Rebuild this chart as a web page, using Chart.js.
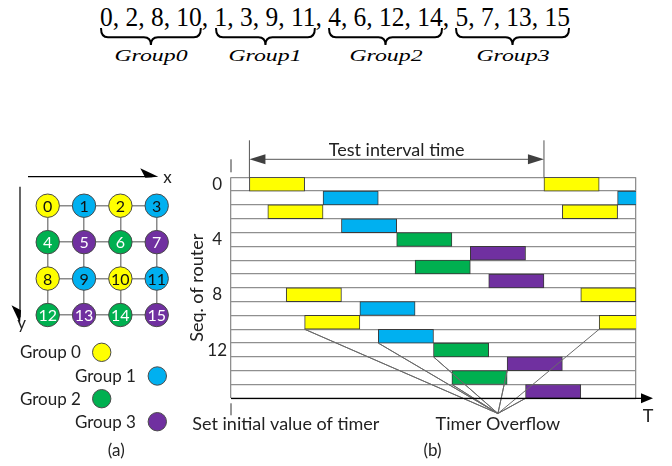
<!DOCTYPE html>
<html>
<head>
<meta charset="utf-8">
<title>Group timer schedule</title>
<script src="https://cdn.jsdelivr.net/npm/chart.js@4/dist/chart.umd.min.js"></script>
<style>
  html, body { margin: 0; padding: 0; background: #fff; }
  body { position: relative; width: 672px; height: 466px; overflow: hidden; }
  #eqRow { position: absolute; left: 100px; top: 4px; font: 27px/1 "Liberation Serif", serif; white-space: pre; transform-origin: 0 0; color: #000; }
  .grp { display: inline-block; }
  .brace { position: absolute; top: 28px; overflow: visible; }
  .glabel { position: absolute; top: 47px; width: 120px; text-align: center; font: italic 17px/1 "Liberation Serif", serif; transform: scaleX(1.4); color: #000; }
  #meshWrap { position: absolute; left: 0; top: 150px; width: 200px; height: 316px; }
  #timingWrap { position: absolute; left: 180px; top: 130px; width: 492px; height: 336px; }
</style>
</head>
<body>
<div id="eqRow"></div>
<div id="meshWrap"><canvas id="mesh" width="200" height="316"></canvas></div>
<div id="timingWrap"><canvas id="timing" width="492" height="336"></canvas></div>
<script>
// router groups, also decide node and bar colours
const groups = [[0, 2, 8, 10], [1, 3, 9, 11], [4, 6, 12, 14], [5, 7, 13, 15]];
const groupNames = ['Group0', 'Group1', 'Group2', 'Group3'];
const legendNames = ['Group 0', 'Group 1', 'Group 2', 'Group 3'];
const groupColors = ['#ffff00', '#00b0f0', '#00b050', '#7030a0'];
const groupTextColors = ['#111', '#111', '#fff', '#fff'];

// 4x4 mesh, router ids row by row
const meshRows = [[0, 1, 2, 3], [4, 5, 6, 7], [8, 9, 10, 11], [12, 13, 14, 15]];

// timer slots per router (time units)
const firstStart = [0, 4, 1, 5, 8, 12, 9, 13, 2, 6, 3, 7, 10, 14, 11, 15];
const secondStart = [16, 20, 17, null, null, null, null, null, 18, null, 19, null, null, null, null, null];
const slotLength = 3;
const intervalStart = 0;
const intervalEnd = 16;
const rowTickLabels = [0, 4, 8, 12];

// timer overflow callout
const overflowPoint = { x: 13.5, y: 17.1 };
const overflowTargets = [
    { x: 3, y: 11 }, { x: 7, y: 12 }, { x: 10, y: 13 }, { x: 11, y: 15 },
    { x: 14, y: 14 }, { x: 15, y: 16 }, { x: 19, y: 11 }
];

const groupOf = id => groups.findIndex(g => g.includes(id));
const FONT = 'Lato, "Open Sans", sans-serif';
const INK = '#222';

// ---------- equation on top ----------
const eqRow = document.getElementById('eqRow');
const groupEls = groups.map((g, i) => {
    const span = document.createElement('span');
    span.className = 'grp';
    span.textContent = g.join(', ');
    eqRow.appendChild(span);
    if (i < groups.length - 1) eqRow.appendChild(document.createTextNode(', '));
    return span;
});
const eqScale = 470 / eqRow.getBoundingClientRect().width;
eqRow.style.transform = `scaleX(${eqScale})`;

const bracePath = (w, h) => {
    const m = w / 2, r = 7, y = h * 0.55;
    return `M1,0 Q1,${y} ${r + 1},${y} L${m - r},${y} Q${m},${y} ${m},${h} ` +
           `Q${m},${y} ${m + r},${y} L${w - r - 1},${y} Q${w - 1},${y} ${w - 1},0`;
};

groupEls.forEach((el, i) => {
    const left = 100 + el.offsetLeft * eqScale;
    const w = el.offsetWidth * eqScale;
    const svg = document.createElementNS('http://www.w3.org/2000/svg', 'svg');
    svg.setAttribute('class', 'brace');
    svg.setAttribute('width', w);
    svg.setAttribute('height', 17);
    svg.style.left = left + 'px';
    svg.innerHTML = `<path d="${bracePath(w, 17)}" fill="none" stroke="#000" stroke-width="2"/>`;
    document.body.appendChild(svg);

    const lbl = document.createElement('div');
    lbl.className = 'glabel';
    lbl.textContent = groupNames[i];
    lbl.style.left = (left + w / 2 - 60) + 'px';
    document.body.appendChild(lbl);
});

// ---------- (a) mesh ----------
const meshPoints = [];
meshRows.forEach((row, r) => row.forEach((id, c) => meshPoints.push({ x: c, y: r, id })));

const legendLayout = [
    { tx: 20, ty: 208, cx: 101.7, cy: 202.3 },
    { tx: 75, ty: 231.7, cx: 157.3, cy: 226 },
    { tx: 20, ty: 255, cx: 101.7, cy: 248.7 },
    { tx: 75, ty: 278.3, cx: 157.3, cy: 271.7 }
];

const meshDecor = {
    id: 'meshDecor',
    afterDatasetsDraw(chart) {
        const { ctx } = chart;
        const meta = chart.getDatasetMeta(0);
        ctx.save();
        ctx.font = `16px ${FONT}`;
        ctx.textAlign = 'center';
        meta.data.forEach((pt, i) => {
            const id = meshPoints[i].id;
            ctx.fillStyle = groupTextColors[groupOf(id)];
            ctx.fillText(String(id), pt.x, pt.y + 6);
        });
        ctx.restore();
    },
    afterDraw(chart) {
        const { ctx, chartArea: ca } = chart;
        ctx.save();
        ctx.strokeStyle = '#000';
        ctx.fillStyle = '#000';
        ctx.lineWidth = 1.2;

        // x direction arrow
        const ay = ca.top - 29, tipX = ca.right + 1.6;
        ctx.beginPath();
        ctx.moveTo(ca.left - 19.7, ay);
        ctx.lineTo(tipX - 6, ay);
        ctx.stroke();
        ctx.beginPath();
        ctx.moveTo(tipX, ay);
        ctx.lineTo(tipX - 18, ay - 8.5);
        ctx.lineTo(tipX - 13, ay + 1);
        ctx.closePath();
        ctx.fill();

        // y direction arrow
        const ax = ca.left - 27.7, tipY = ca.bottom + 8.3;
        ctx.beginPath();
        ctx.moveTo(ax, ca.top - 19);
        ctx.lineTo(ax, tipY - 6);
        ctx.stroke();
        ctx.beginPath();
        ctx.moveTo(ax, tipY);
        ctx.lineTo(ax - 8.5, tipY - 18);
        ctx.lineTo(ax + 1, tipY - 13);
        ctx.closePath();
        ctx.fill();

        ctx.font = `17px ${FONT}`;
        ctx.fillStyle = INK;
        ctx.textAlign = 'center';
        ctx.fillText('x', ca.right + 10.8, ca.top - 22.4);
        ctx.fillText('y', ca.left - 26, ca.bottom + 14);

        // legend
        legendLayout.forEach((p, i) => {
            ctx.textAlign = 'left';
            ctx.fillStyle = INK;
            ctx.fillText(legendNames[i], p.tx, p.ty);
            ctx.beginPath();
            ctx.arc(p.cx, p.cy, 9.2, 0, Math.PI * 2);
            ctx.fillStyle = groupColors[i];
            ctx.fill();
            ctx.strokeStyle = '#4a4a4a';
            ctx.lineWidth = 1;
            ctx.stroke();
        });

        ctx.textAlign = 'center';
        ctx.fillStyle = INK;
        ctx.fillText('(a)', 116.3, 306);
        ctx.restore();
    }
};

new Chart(document.getElementById('mesh'), {
    type: 'scatter',
    data: {
        datasets: [{
            data: meshPoints,
            pointRadius: 11.7,
            pointBorderWidth: 1,
            pointBorderColor: '#4a4a4a',
            pointBackgroundColor: meshPoints.map(p => groupColors[groupOf(p.id)]),
            clip: false
        }]
    },
    options: {
        responsive: false,
        animation: false,
        events: [],
        layout: { padding: { left: 47.7, top: 55.7, right: 43.3, bottom: 151 }, autoPadding: false },
        plugins: { legend: { display: false }, tooltip: { enabled: false } },
        scales: {
            x: {
                type: 'linear', min: 0, max: 3,
                ticks: { display: false, stepSize: 1 },
                grid: { color: '#8a8a8a', lineWidth: 1.5, drawTicks: false },
                border: { display: false }
            },
            y: {
                type: 'linear', min: 0, max: 3, reverse: true,
                ticks: { display: false, stepSize: 1 },
                grid: { color: '#8a8a8a', lineWidth: 1.5, drawTicks: false },
                border: { display: false }
            }
        }
    },
    plugins: [meshDecor]
});

// ---------- (b) timer schedule ----------
const bars = [];
const barColors = [];
firstStart.forEach((s, r) => {
    bars.push({ y: r + 0.5, x: [s, s + slotLength] });
    barColors.push(groupColors[groupOf(r)]);
    if (secondStart[r] !== null) {
        bars.push({ y: r + 0.5, x: [secondStart[r], secondStart[r] + slotLength] });
        barColors.push(groupColors[groupOf(r)]);
    }
});

const fanLine = [];
overflowTargets.forEach(t => fanLine.push(overflowPoint, t));

const timingDecor = {
    id: 'timingDecor',
    afterDraw(chart) {
        const { ctx, chartArea: ca, scales: { x } } = chart;
        ctx.save();

        // test interval markers
        const xa = x.getPixelForValue(intervalStart);
        const xb = x.getPixelForValue(intervalEnd);
        const ay = ca.top - 18;
        ctx.strokeStyle = '#555';
        ctx.fillStyle = '#404040';
        ctx.lineWidth = 1;
        ctx.beginPath();
        ctx.moveTo(xa, ca.top - 37);
        ctx.lineTo(xa, ca.top);
        ctx.moveTo(xb, ca.top - 37);
        ctx.lineTo(xb, ca.top);
        ctx.moveTo(xa + 14, ay);
        ctx.lineTo(xb - 14, ay);
        ctx.stroke();
        [[xa, 1], [xb, -1]].forEach(([tx, d]) => {
            ctx.beginPath();
            ctx.moveTo(tx, ay);
            ctx.lineTo(tx + d * 16, ay - 5);
            ctx.lineTo(tx + d * 16, ay + 5);
            ctx.closePath();
            ctx.fill();
        });

        // short marks on the time origin
        ctx.strokeStyle = '#333';
        ctx.beginPath();
        ctx.moveTo(ca.left, ca.top - 18);
        ctx.lineTo(ca.left, ca.top - 5);
        ctx.moveTo(ca.left, ca.bottom + 5);
        ctx.lineTo(ca.left, ca.bottom + 17);
        ctx.stroke();

        // time axis
        ctx.strokeStyle = '#000';
        ctx.fillStyle = '#000';
        ctx.lineWidth = 1.3;
        const tip = ca.right + 17;
        ctx.beginPath();
        ctx.moveTo(ca.left, ca.bottom);
        ctx.lineTo(tip - 4, ca.bottom);
        ctx.stroke();
        ctx.beginPath();
        ctx.moveTo(tip, ca.bottom);
        ctx.lineTo(tip - 12, ca.bottom - 5);
        ctx.lineTo(tip - 12, ca.bottom + 5);
        ctx.closePath();
        ctx.fill();

        ctx.font = `18px ${FONT}`;
        ctx.fillStyle = INK;
        ctx.textAlign = 'center';
        ctx.fillText('Test interval time', (xa + xb) / 2, ca.top - 21);
        ctx.fillText('T', ca.right + 12, ca.bottom + 23.5);
        ctx.fillText('Timer Overflow', x.getPixelForValue(overflowPoint.x), ca.bottom + 32);
        ctx.font = `17px ${FONT}`;
        ctx.fillText('(b)', ca.left + 201.5, ca.bottom + 57.7);
        ctx.font = `18px ${FONT}`;
        ctx.textAlign = 'left';
        ctx.fillText('Set initial value of timer', ca.left - 38.7, ca.bottom + 32);
        ctx.restore();
    }
};

new Chart(document.getElementById('timing'), {
    type: 'bar',
    data: {
        datasets: [{
            type: 'line',
            data: fanLine,
            borderColor: '#6a6a6a',
            borderWidth: 1,
            pointRadius: 0,
            tension: 0,
            clip: false,
            order: 0
        }, {
            data: bars,
            backgroundColor: barColors,
            borderColor: '#3a3a3a',
            borderWidth: 1,
            borderSkipped: false,
            barPercentage: 1,
            categoryPercentage: 1,
            clip: 0,
            order: 1
        }]
    },
    options: {
        indexAxis: 'y',
        responsive: false,
        animation: false,
        events: [],
        layout: { padding: { left: 0, top: 47.3, right: 36, bottom: 67.7 }, autoPadding: false },
        plugins: { legend: { display: false }, tooltip: { enabled: false } },
        scales: {
            x: {
                type: 'linear', min: -1, max: 21,
                afterBuildTicks: s => { s.ticks = [{ value: s.min }, { value: s.max }]; },
                ticks: { display: false },
                grid: { color: '#8f8f8f', lineWidth: 1.3, drawTicks: false },
                border: { display: false }
            },
            y: {
                type: 'linear', min: 0, max: 16, reverse: true,
                offset: false,
                afterBuildTicks: s => { s.ticks = Array.from({ length: 17 }, (_, i) => ({ value: i })); },
                afterFit: s => { s.width = 51; },
                ticks: {
                    autoSkip: false,
                    padding: 4,
                    crossAlign: 'center',
                    labelOffset: 7,
                    color: INK,
                    font: { family: FONT, size: 17 },
                    callback: v => rowTickLabels.includes(v) ? String(v) : ''
                },
                grid: { color: '#8f8f8f', lineWidth: 1.3, drawTicks: false, offset: false },
                border: { display: false },
                title: {
                    display: true,
                    text: 'Seq. of router',
                    color: INK,
                    font: { family: FONT, size: 18, lineHeight: 1.2 },
                    padding: { top: 6.5, bottom: 0 }
                }
            }
        }
    },
    plugins: [timingDecor]
});
</script>
</body>
</html>
